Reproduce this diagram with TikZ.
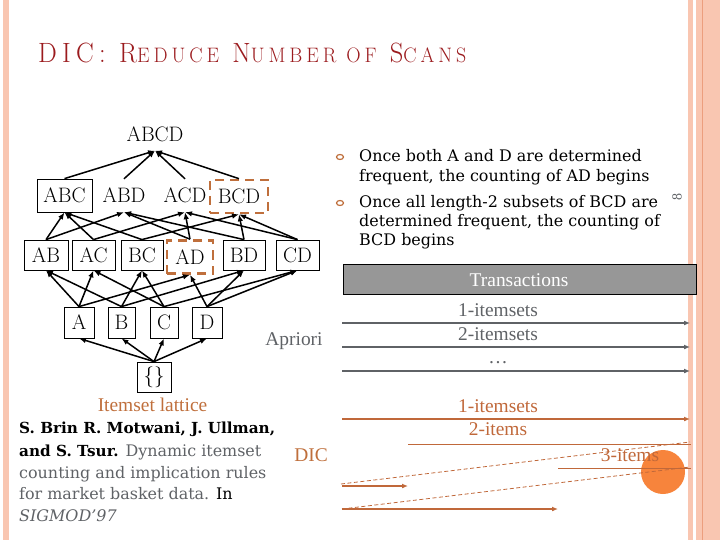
\documentclass[tikz,border=0pt]{standalone}
\usepackage{fontspec}
\newfontfamily\cam{DejaVu Serif}
\newfontfamily\tim{Liberation Serif}
\newfontfamily\ttl[LetterSpace=20]{Latin Modern Roman}
\usetikzlibrary{arrows.meta,shapes.geometric}
\definecolor{pinkband}{HTML}{F9C6B1}
\definecolor{pinkline}{HTML}{EC9E7E}
\definecolor{titlered}{HTML}{9B1B1E}
\definecolor{brownor}{HTML}{BF6F3C}
\definecolor{dicor}{HTML}{C0683A}
\definecolor{gtext}{HTML}{5F6266}
\definecolor{ball}{HTML}{F7843C}
\definecolor{trgray}{HTML}{979797}
\tikzset{
  lat/.style={font=\fontsize{21}{23}\selectfont, inner sep=0pt, minimum height=31bp},
  lbox/.style={lat, draw=black, line width=0.8bp},
  dbox/.style={lat, draw=brownor, line width=2.6bp, dash pattern=on 9bp off 6bp},
  ed/.style={line width=1.5bp, -{Latex[length=7bp,width=5.5bp]}},
  bul/.style={ellipse, draw=brownor, line width=1.2bp, minimum width=7bp, minimum height=5bp, inner sep=0pt},
  btxt/.style={anchor=base west, inner sep=0pt, font=\cam\fontsize{16}{19}\selectfont},
  ttxt/.style={inner sep=0pt, font=\tim\fontsize{19.5}{22}\selectfont},
  garr/.style={draw=gtext, line width=1.8bp, -{Latex[length=6bp,width=5bp]}},
  darr/.style={draw=dicor, line width=1.8bp, -{Latex[length=6bp,width=5bp]}},
  dthin/.style={draw=dicor, line width=0.8bp},
  ddash/.style={draw=dicor, line width=0.8bp, dash pattern=on 4bp off 2.5bp},
}
\newcommand{\bsm}[1]{{\fontsize{15.3}{19}\selectfont\bfseries #1}}
\begin{document}
\begin{tikzpicture}[x=1bp,y=-1bp]
\useasboundingbox (0,0) rectangle (720,540);
% borders
\fill[pinkband] (3,0) rectangle (8.5,540);
\fill[pinkband] (688,0) rectangle (692.5,540);
\fill[pinkband] (696,0) rectangle (720,540);
\draw[pinkline, line width=0.8bp] (702.5,0) -- (702.5,540);
% title
\node[anchor=base west, inner sep=0pt, text=titlered] (title) at (38,63)
  {\scalebox{0.95}[1]{\ttl\fontsize{28}{30}\selectfont DIC: R{\fontsize{21}{22}\selectfont EDUCE} N{\fontsize{21}{22}\selectfont UMBER OF} S{\fontsize{21}{22}\selectfont CANS}}};
% lattice
\node[lat, minimum height=33bp] (ABCD) at (155,134) {ABCD};
\node[lbox, minimum width=55bp, minimum height=33bp] (ABC) at (64.5,195.5) {ABC};
\node[lat, minimum height=33bp] (ABD) at (124,195.5) {ABD};
\node[lat, minimum height=33bp] (ACD) at (185,195.5) {ACD};
\node[dbox, minimum width=58bp, minimum height=33bp] (BCD) at (239,196.5) {BCD};
\node[lbox, minimum width=44bp, minimum height=30bp] (AB) at (46,255) {AB};
\node[lbox, minimum width=43bp, minimum height=30bp] (AC) at (93.5,255) {AC};
\node[lbox, minimum width=42bp, minimum height=30bp] (BC) at (142,255) {BC};
\node[dbox, minimum width=46bp, minimum height=33bp] (AD) at (190,257) {AD};
\node[lbox, minimum width=42bp, minimum height=30bp] (BD) at (244,255) {BD};
\node[lbox, minimum width=43bp, minimum height=30bp] (CD) at (297.5,255) {CD};
\node[lbox, minimum width=30bp] (A) at (79,322.5) {A};
\node[lbox, minimum width=27bp] (B) at (121.5,322.5) {B};
\node[lbox, minimum width=28bp] (C) at (164,322.5) {C};
\node[lbox, minimum width=30bp] (D) at (207,322.5) {D};
\node[lbox, minimum width=34bp, minimum height=30bp] (E) at (154,377) {\{\}};
\foreach \s in {ABC,ABD,ACD,BCD} \draw[ed] (\s.north) -- (ABCD.south);
\foreach \s/\t in {AB/ABC,AB/ABD,AC/ABC,AC/ACD,BC/ABC,BC/BCD,AD/ABD,AD/ACD,BD/ABD,BD/BCD,CD/ACD,CD/BCD}
  \draw[ed] (\s.north) -- (\t.south);
\foreach \s/\t in {A/AB,A/AC,A/AD,B/AB,B/BC,B/BD,C/AC,C/BC,C/CD,D/AD,D/BD,D/CD}
  \draw[ed] (\s.north) -- (\t.south);
\foreach \t in {A,B,C,D} \draw[ed] (E.north) -- (\t.south);
\node[ttxt, anchor=base, text=brownor] (lattice) at (152.5,411) {Itemset lattice};
\node[ttxt, anchor=base, text=gtext] (apriori) at (294,345) {Apriori};
\node[ttxt, anchor=base, text=brownor] (dic) at (311,461) {DIC};
% bullets
\node[bul] (b1) at (340,157) {};
\node[bul] (b2) at (340,203) {};
\node[btxt] (t1) at (359,162) {Once both A and D are determined};
\node[btxt] (t2) at (359,182) {frequent, the counting of AD begins};
\node[btxt] (t3) at (359,208) {Once all length-2 subsets of BCD are};
\node[btxt] (t4) at (359,227) {determined frequent, the counting of};
\node[btxt] (t5) at (359,246) {BCD begins};
\node[rotate=90, text=gtext, inner sep=0pt, font=\tim\fontsize{14}{15}\selectfont] (pg) at (677,197) {8};
% transactions
\node[draw=black, fill=trgray, line width=0.9bp, minimum width=353bp, minimum height=30bp, inner sep=0pt, anchor=north west] (tr) at (343,264) {};
\node[ttxt, anchor=base, text=white] (trt) at (519,287) {Transactions};
% apriori arrows
\coordinate (p1s) at (342,323); \coordinate (p1e) at (690,323);
\coordinate (p2s) at (342,347); \coordinate (p2e) at (690,347);
\coordinate (p3s) at (342,371); \coordinate (p3e) at (690,371);
\draw[garr] (p1s) -- (p1e);
\draw[garr] (p2s) -- (p2e);
\draw[garr] (p3s) -- (p3e);
\node[ttxt, anchor=base, text=gtext] (a1) at (498,316) {1-itemsets};
\node[ttxt, anchor=base, text=gtext] (a2) at (498,340) {2-itemsets};
\node[ttxt, anchor=base, text=gtext] (a3) at (498,363) {\dots};
% DIC
\fill[ball] (663,472) circle (22bp);
\coordinate (d1s) at (342,419); \coordinate (d1e) at (690,419);
\draw[darr] (d1s) -- (d1e);
\coordinate (d2s) at (408,444); \coordinate (d2e) at (691,444);
\draw[dthin] (d2s) -- (d2e);
\coordinate (d3s) at (558,468); \coordinate (d3e) at (691,468);
\draw[dthin] (d3s) -- (d3e);
\coordinate (q1s) at (341,484); \coordinate (q1e) at (690,442);
\draw[ddash] (q1s) -- (q1e);
\coordinate (q2s) at (342,509); \coordinate (q2e) at (690,467);
\draw[ddash] (q2s) -- (q2e);
\coordinate (r1s) at (342,486); \coordinate (r1e) at (408,486);
\draw[darr] (r1s) -- (r1e);
\coordinate (r2s) at (342,509); \coordinate (r2e) at (558,509);
\draw[darr] (r2s) -- (r2e);
\node[ttxt, anchor=base, text=dicor] (c1) at (498,412) {1-itemsets};
\node[ttxt, anchor=base, text=dicor] (c2) at (498,435) {2-items};
\node[ttxt, anchor=base, text=dicor] (c3) at (630,461) {3-items};
% citation
\node[btxt] (r1) at (19,433) {\bsm{S. Brin R. Motwani, J. Ullman,}};
\node[btxt] (r2) at (19,456) {\bsm{and S. Tsur.} \textcolor{gtext}{Dynamic itemset}};
\node[btxt, text=gtext] (r3) at (19,478) {counting and implication rules};
\node[btxt] (r4) at (19,499) {\textcolor{gtext}{for market basket data.} In};
\node[btxt, text=gtext] (r5) at (19,521) {\itshape SIGMOD’97};
\end{tikzpicture}
\end{document}
